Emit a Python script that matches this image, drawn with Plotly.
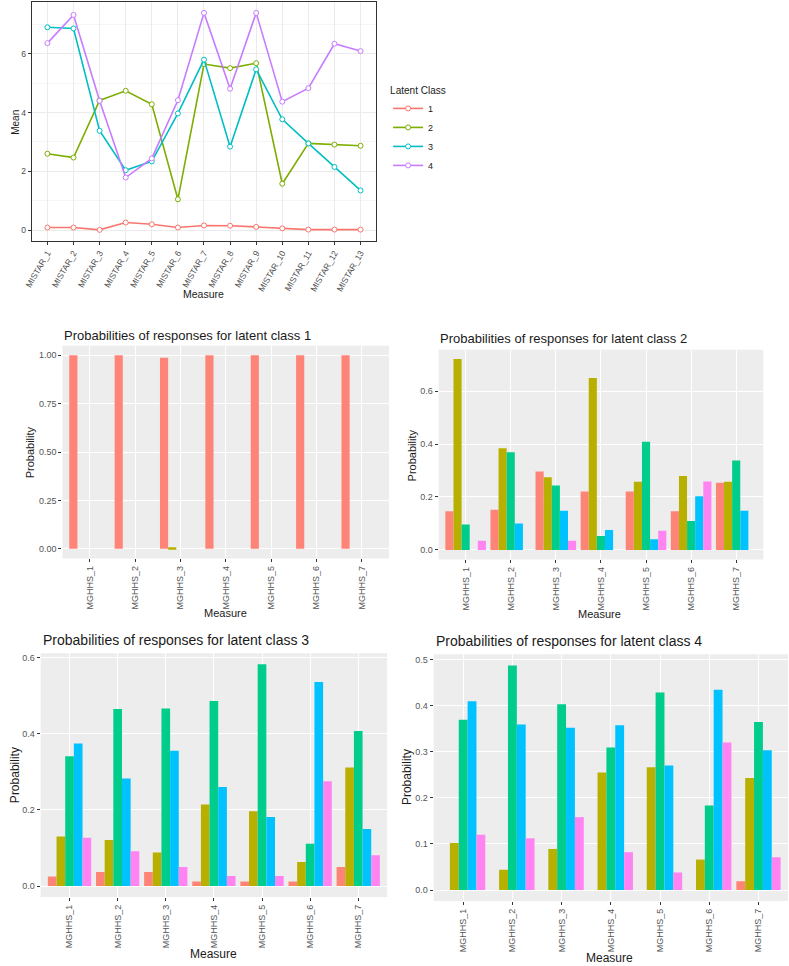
import plotly.graph_objects as go

W, H = 789, 966

# ---------------- data ----------------
mistar = [f"MISTAR_{i}" for i in range(1, 14)]
class_means = {
    "1": [0.09, 0.09, 0.01, 0.26, 0.20, 0.09, 0.16, 0.15, 0.11, 0.06, 0.02, 0.02, 0.02],
    "2": [2.60, 2.47, 4.41, 4.74, 4.28, 1.05, 5.65, 5.51, 5.68, 1.58, 2.95, 2.91, 2.87],
    "3": [6.90, 6.86, 3.38, 2.04, 2.34, 3.97, 5.80, 2.84, 5.47, 3.77, 2.95, 2.15, 1.35],
    "4": [6.36, 7.32, 4.40, 1.79, 2.44, 4.42, 7.39, 4.81, 7.39, 4.37, 4.83, 6.34, 6.09],
}
line_colors = ["#F8766D", "#7CAE00", "#00BFC4", "#C77CFF"]

mghhs = [f"MGHHS_{i}" for i in range(1, 8)]
responses = ["r1", "r2", "r3", "r4", "r5"]
bar_colors = ["#FF8478", "#B8B000", "#00CC8C", "#00C2FF", "#FF84F2"]

# probabilities: per latent class, per response level, per MGHHS item (None = absent)
probs_c1 = [
    [1.00, 1.00, 0.988, 1.00, 1.00, 1.00, 1.00],
    [None, None, 0.008, None, None, None, None],
    [None, None, None, None, None, None, None],
    [None, None, None, None, None, None, None],
    [None, None, None, None, None, None, None],
]
probs_c2 = [
    [0.146, 0.152, 0.296, 0.221, 0.221, 0.146, 0.254],
    [0.722, 0.384, 0.275, 0.650, 0.258, 0.279, 0.258],
    [0.096, 0.369, 0.243, 0.053, 0.409, 0.109, 0.338],
    [None, 0.100, 0.148, 0.075, 0.040, 0.203, 0.148],
    [0.035, None, 0.035, None, 0.072, 0.259, None],
]
probs_c3 = [
    [0.025, 0.037, 0.037, 0.012, 0.012, 0.012, 0.050],
    [0.130, 0.121, 0.088, 0.214, 0.196, 0.063, 0.311],
    [0.341, 0.465, 0.466, 0.486, 0.582, 0.111, 0.407],
    [0.374, 0.282, 0.355, 0.260, 0.181, 0.536, 0.150],
    [0.127, 0.091, 0.050, 0.026, 0.026, 0.275, 0.081],
]
probs_c4 = [
    [None, None, None, None, None, None, 0.019],
    [0.102, 0.044, 0.089, 0.255, 0.266, 0.066, 0.243],
    [0.369, 0.487, 0.403, 0.309, 0.428, 0.183, 0.364],
    [0.409, 0.359, 0.352, 0.357, 0.270, 0.434, 0.303],
    [0.120, 0.112, 0.158, 0.082, 0.038, 0.320, 0.071],
]

FONT = "Arial, Liberation Sans, sans-serif"


def dx(a, b):
    return [a / W, b / W]


def dy(top, bottom):
    return [1 - bottom / H, 1 - top / H]


fig = go.Figure()

# ---------------- top line chart ----------------
for (name, vals), col in zip(class_means.items(), line_colors):
    fig.add_trace(go.Scatter(
        x=mistar, y=vals, name=name, mode="lines+markers",
        line=dict(color=col, width=1.6),
        marker=dict(symbol="circle", size=5, color="white",
                    line=dict(color=col, width=1)),
        xaxis="x", yaxis="y", showlegend=True,
    ))

# ---------------- bar panels ----------------
panels = [
    (probs_c1, "2", dx(55, 385), dy(345, 558), [-0.05, 1.05], [0, 0.25, 0.5, 0.75, 1.0],
     ["0.00", "0.25", "0.50", "0.75", "1.00"]),
    (probs_c2, "3", dx(435, 763), dy(349, 559), [-0.036, 0.757], [0, 0.2, 0.4, 0.6],
     ["0.0", "0.2", "0.4", "0.6"]),
    (probs_c3, "4", dx(33, 383), dy(653, 897), [-0.029, 0.611], [0, 0.2, 0.4, 0.6],
     ["0.0", "0.2", "0.4", "0.6"]),
    (probs_c4, "5", dx(430, 788), dy(654, 901), [-0.024, 0.511], [0, 0.1, 0.2, 0.3, 0.4, 0.5],
     ["0.0", "0.1", "0.2", "0.3", "0.4", "0.5"]),
]

layout_axes = {}
for probs, k, xd, yd, yr, tv, tt in panels:
    for lvl, (vals, col) in enumerate(zip(probs, bar_colors)):
        fig.add_trace(go.Bar(
            x=mghhs, y=vals, name=responses[lvl], marker=dict(color=col, line=dict(width=0)),
            xaxis="x" + k, yaxis="y" + k, showlegend=False,
        ))
    layout_axes["xaxis" + k] = dict(
        domain=xd, anchor="y" + k, type="category", range=[-0.6, 6.6],
        showgrid=True, gridcolor="white", gridwidth=1.1,
        ticks="outside", ticklen=3, tickcolor="#333333", tickwidth=1,
        tickangle=-90, tickfont=dict(family=FONT, size=9, color="#555555"),
        showline=False, zeroline=False, fixedrange=True,
    )
    layout_axes["yaxis" + k] = dict(
        domain=yd, anchor="x" + k, range=yr, tickvals=tv, ticktext=tt,
        showgrid=True, gridcolor="white", gridwidth=1.1,
        ticks="outside", ticklen=3, tickcolor="#333333", tickwidth=1,
        tickfont=dict(family=FONT, size=9, color="#555555"),
        showline=False, zeroline=False, fixedrange=True,
    )

shapes = []
for _, k, xd, yd, *_ in panels:
    shapes.append(dict(type="rect", xref="paper", yref="paper",
                       x0=xd[0], x1=xd[1], y0=yd[0], y1=yd[1],
                       fillcolor="#EDEDED", line=dict(width=0), layer="below"))

annotations = []


def ann(text, x, y, size, xanchor="center", yanchor="middle", angle=0, color="#1A1A1A"):
    annotations.append(dict(text=text, x=x / W, y=1 - y / H, xref="paper", yref="paper",
                            showarrow=False, xanchor=xanchor, yanchor=yanchor, textangle=angle,
                            font=dict(family=FONT, size=size, color=color)))


# bar panel titles
ann("Probabilities of responses for latent class 1", 55, 335, 13, xanchor="left")
ann("Probabilities of responses for latent class 2", 434, 338, 13, xanchor="left")
ann("Probabilities of responses for latent class 3", 33, 640, 14, xanchor="left")
ann("Probabilities of responses for latent class 4", 430, 641, 14, xanchor="left")
# y axis titles
ann("Probability", 22, 452, 11, angle=-90)
ann("Probability", 408, 455, 11, angle=-90)
ann("Probability", 7, 775, 12, angle=-90)
ann("Probability", 403, 777, 12, angle=-90)
# x axis titles
ann("Measure", 220, 613, 11)
ann("Measure", 598, 614, 11)
ann("Measure", 208, 954, 12)
ann("Measure", 608, 958, 12)
# top chart axis titles
ann("Mean", 8, 121, 10, angle=-90)
ann("Measure", 198, 293, 10.5, color="#1A1A1A")

fig.update_layout(
    width=W, height=H, autosize=False,
    margin=dict(l=0, r=0, t=0, b=0),
    paper_bgcolor="white", plot_bgcolor="white",
    barmode="group", bargap=0.1, bargroupgap=0,
    font=dict(family=FONT),
    xaxis=dict(domain=dx(24, 372), anchor="y", type="category", range=[-0.6, 12.6],
               showgrid=True, gridcolor="#EBEBEB", gridwidth=1,
               ticks="outside", ticklen=3, tickcolor="#333333",
               tickangle=-60, tickfont=dict(family=FONT, size=8.5, color="#4D4D4D"),
               showline=True, linecolor="#333333", linewidth=1, mirror=True,
               zeroline=False, fixedrange=True),
    yaxis=dict(domain=dy(1, 240), anchor="x", range=[-0.36, 7.76],
               tickvals=[0, 2, 4, 6], showgrid=True, gridcolor="#EBEBEB", gridwidth=1,
               minor=dict(tickvals=[1, 3, 5, 7], showgrid=True, gridcolor="#F5F5F5", gridwidth=0.5),
               ticks="outside", ticklen=3, tickcolor="#333333",
               tickfont=dict(family=FONT, size=8.5, color="#4D4D4D"),
               showline=True, linecolor="#333333", linewidth=1, mirror=True,
               zeroline=False, fixedrange=True),
    legend=dict(x=384 / W, y=1 - 80 / H, xanchor="left", yanchor="top",
                title=dict(text="Latent Class", font=dict(family=FONT, size=10, color="#1A1A1A")),
                font=dict(family=FONT, size=9, color="#1A1A1A"),
                bgcolor="rgba(0,0,0,0)", tracegroupgap=0, itemwidth=30),
    shapes=shapes,
    annotations=annotations,
    **layout_axes,
)

fig.write_html("out.html", config={"displayModeBar": False},
               post_script="document.body.style.margin='0';document.body.style.overflow='hidden';")
